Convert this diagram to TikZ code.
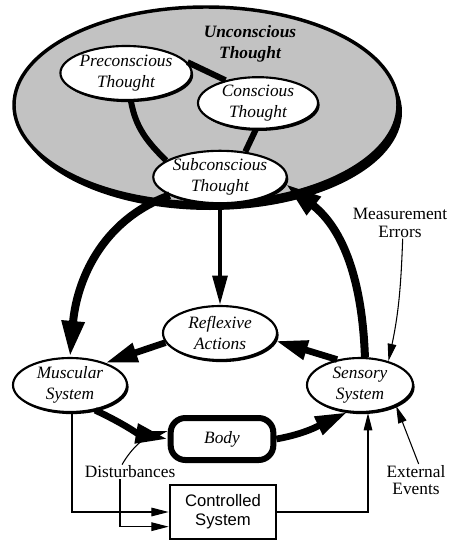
\documentclass[tikz,border=0pt]{standalone}
\usepackage{fontspec}
\setmainfont{Liberation Serif}
\setsansfont{Liberation Sans}
\usepackage{tikz}
\usetikzlibrary{shapes.geometric,arrows.meta,shadows}

\tikzset{
  thought/.style={ellipse, draw, line width=1.6pt, fill=white, inner sep=0pt, align=center,
    font=\fontsize{13}{16}\selectfont\itshape,
    drop shadow={opacity=1, fill=black, shadow xshift=1.2pt, shadow yshift=-1.6pt}},
  link/.style={line width=4.5pt},
  bigarc/.style={line width=6pt, -{Triangle[length=27pt,width=16pt]}},
  fatarrow/.style={line width=5pt, -{Triangle[length=24pt,width=14pt]}},
  downarrow/.style={line width=3pt, -{Triangle[length=22pt,width=11pt]}},
  thinarrow/.style={line width=0.8pt, -{Triangle[length=13pt,width=6.5pt]}},
  remark/.style={align=center, inner sep=0.75pt, font=\fontsize{13}{13}\selectfont},
}

\begin{document}
\begin{tikzpicture}[x=0.75pt,y=0.75pt,yscale=-1,xscale=1]

\useasboundingbox (0,0) rectangle (451,542);

\fill (210,112) ellipse [x radius=192, y radius=98];
\draw [line width=2.6pt, fill=black!24] (206,105) ellipse [x radius=192, y radius=98];

\node (unclab) at (250,44) [align=center, inner sep=0.75pt, font=\fontsize{13}{16}\selectfont\bfseries\itshape] {Unconscious\\Thought};

\node (pre) at (126,73) [thought, minimum width=87pt, minimum height=40.5pt] {Preconscious\\Thought};

\node (con) at (258,103) [thought, minimum width=90pt, minimum height=37.5pt] {Conscious\\Thought};

\node (sub) at (220,177) [thought, minimum width=90pt, minimum height=39pt] {Subconscious\\Thought};

\draw [link] (pre.10) -- (con.145);
\draw [link] (pre.-80) to[out=80,in=225] (sub.163);
\draw [link] (con.-95) -- (sub.45);

\node (refl) at (220,333) [thought, minimum width=85.5pt, minimum height=40.5pt] {Reflexive\\Actions};

\node (mus) at (70,385) [thought, minimum width=85.5pt, minimum height=40.5pt] {Muscular\\System};

\node (sen) at (360,385) [thought, minimum width=79.5pt, minimum height=40.5pt] {Sensory\\System};

\node (body) at (222,439) [draw, line width=4.5pt, rounded corners=11pt, minimum width=77pt, minimum height=31.5pt, font=\fontsize{13}{16}\selectfont\itshape] {Body};

\node (ctrl) at (223,512) [draw, line width=1.5pt, minimum width=80pt, minimum height=41pt, align=center, font=\fontsize{12.5}{14}\selectfont\sffamily] {Controlled\\System};

\node (dist) at (130,472) [remark] {Disturbances};

\node (meas) at (400,223) [remark] {Measurement\\Errors};

\node (ext) at (416,480) [remark] {External\\Events};

\draw [bigarc] (sub.200) to[out=160,in=275] (mus.north);
\draw [bigarc] (sen.80) to[out=268,in=38] (sub.-6);
\draw [downarrow] (sub.south) -- (refl.north);

\draw [fatarrow] (refl.190) -- (mus.32);
\draw [fatarrow] (sen.132) -- (refl.-8);
\draw [fatarrow] (mus.-45) to[out=25,in=190] (body.west);
\draw [fatarrow] (body.east) to[out=350,in=155] (sen.245);

\draw [thinarrow] ([xshift=-6pt]dist.north) to[out=300,in=165] ([yshift=-6pt]body.west);
\draw [thinarrow] ([xshift=-7.5pt]dist.south) |- ([yshift=11pt]ctrl.west);
\draw [thinarrow] ([xshift=1.5pt]mus.south) |- (ctrl.west);
\draw [thinarrow] (ctrl.east) -| ([xshift=6pt]sen.south);
\draw [thinarrow] ([xshift=2pt]meas.south) to[out=92,in=282] (sen.40);
\draw [thinarrow] ([xshift=2pt]ext.north) -- (sen.-30);

\end{tikzpicture}
\end{document}
